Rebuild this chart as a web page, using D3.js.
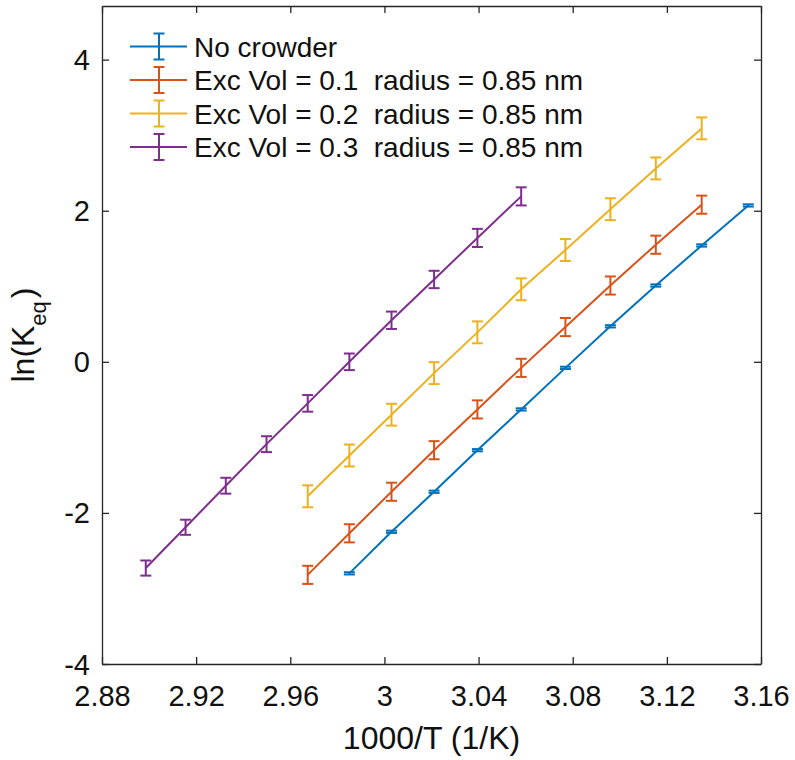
<!DOCTYPE html>
<html>
<head>
<meta charset="utf-8">
<script src="https://cdn.jsdelivr.net/npm/d3@7"></script>
<style>
  html, body { margin: 0; padding: 0; background: #fff; }
  svg { display: block; font-family: "Liberation Sans", Arial, Helvetica, sans-serif; }
</style>
</head>
<body>
<svg id="chart" width="795" height="760"></svg>
<script>
// ---- data ----
const seriesNames = [
  "No crowder",
  "Exc Vol = 0.1  radius = 0.85 nm",
  "Exc Vol = 0.2  radius = 0.85 nm",
  "Exc Vol = 0.3  radius = 0.85 nm"
];
const seriesColors = ["#0072BD", "#D95319", "#EDB120", "#7E2F8E"];

const xNoCrowder = [2.9851, 3.0030, 3.0211, 3.0395, 3.0581, 3.0769, 3.0960, 3.1153, 3.1348, 3.1546];
const yNoCrowder = [-2.80, -2.25, -1.72, -1.17, -0.63, -0.08, 0.47, 1.01, 1.54, 2.07];
const eNoCrowder = [0.015, 0.015, 0.015, 0.015, 0.015, 0.015, 0.015, 0.015, 0.015, 0.015];

const xExc01 = [2.9674, 2.9851, 3.0030, 3.0211, 3.0395, 3.0581, 3.0769, 3.0960, 3.1153, 3.1348];
const yExc01 = [-2.82, -2.27, -1.72, -1.17, -0.63, -0.08, 0.46, 1.01, 1.55, 2.08];
const eExc01 = [0.12, 0.12, 0.12, 0.12, 0.12, 0.12, 0.12, 0.12, 0.12, 0.12];

const xExc02 = [2.9674, 2.9851, 3.0030, 3.0211, 3.0395, 3.0581, 3.0769, 3.0960, 3.1153, 3.1348];
const yExc02 = [-1.78, -1.24, -0.70, -0.15, 0.39, 0.96, 1.48, 2.02, 2.56, 3.09];
const eExc02 = [0.145, 0.145, 0.145, 0.145, 0.145, 0.145, 0.145, 0.145, 0.145, 0.145];

const xExc03 = [2.8986, 2.9155, 2.9326, 2.9499, 2.9674, 2.9851, 3.0030, 3.0211, 3.0395, 3.0581];
const yExc03 = [-2.73, -2.19, -1.64, -1.09, -0.55, 0.00, 0.55, 1.09, 1.64, 2.19];
const eExc03 = [0.10, 0.10, 0.105, 0.105, 0.11, 0.11, 0.115, 0.115, 0.12, 0.12];

const xTicks = [2.88, 2.92, 2.96, 3.00, 3.04, 3.08, 3.12, 3.16];
const xTickLabels = ["2.88", "2.92", "2.96", "3", "3.04", "3.08", "3.12", "3.16"];
const yTicks = [-4, -2, 0, 2, 4];
const yTickLabels = ["-4", "-2", "0", "2", "4"];
const xDomain = [2.88, 3.16];
const yDomain = [-4, 4.71];

// ---- build ----
const series = [
  {x: xNoCrowder, y: yNoCrowder, e: eNoCrowder},
  {x: xExc01, y: yExc01, e: eExc01},
  {x: xExc02, y: yExc02, e: eExc02},
  {x: xExc03, y: yExc03, e: eExc03}
].map((s, i) => ({
  name: seriesNames[i],
  color: seriesColors[i],
  pts: s.x.map((xv, j) => ({x: xv, y: s.y[j], e: s.e[j]}))
}));

const pLeft = 102, pRight = 761, pTop = 6, pBottom = 664;
const svg = d3.select("#chart");
const x = d3.scaleLinear().domain(xDomain).range([pLeft, pRight]);
const y = d3.scaleLinear().domain(yDomain).range([pBottom, pTop]);
const axisColor = "#262626";
const tickLen = 7;
const capHalf = 5.5;

// data
const line = d3.line().x(d => x(d.x)).y(d => y(d.y));
const g = svg.append("g");
series.forEach(s => {
  const sg = g.append("g");
  sg.append("path").datum(s.pts)
    .attr("d", line).attr("fill", "none")
    .attr("stroke", s.color).attr("stroke-width", 2);
  const eb = sg.selectAll("g.eb").data(s.pts).enter().append("g");
  eb.append("line")
    .attr("x1", d => x(d.x)).attr("x2", d => x(d.x))
    .attr("y1", d => y(d.y - d.e)).attr("y2", d => y(d.y + d.e))
    .attr("stroke", s.color).attr("stroke-width", 2);
  eb.append("line")
    .attr("x1", d => x(d.x) - capHalf).attr("x2", d => x(d.x) + capHalf)
    .attr("y1", d => y(d.y - d.e)).attr("y2", d => y(d.y - d.e))
    .attr("stroke", s.color).attr("stroke-width", 2);
  eb.append("line")
    .attr("x1", d => x(d.x) - capHalf).attr("x2", d => x(d.x) + capHalf)
    .attr("y1", d => y(d.y + d.e)).attr("y2", d => y(d.y + d.e))
    .attr("stroke", s.color).attr("stroke-width", 2);
});

// axes (box with inward ticks on all sides)
const ax = svg.append("g");
const xAxisB = d3.axisBottom(x).tickValues(xTicks).tickSizeInner(-tickLen).tickSizeOuter(0)
  .tickFormat((d, i) => xTickLabels[i]);
const xAxisT = d3.axisTop(x).tickValues(xTicks).tickSizeInner(-tickLen).tickSizeOuter(0).tickFormat("");
const yAxisL = d3.axisLeft(y).tickValues(yTicks).tickSizeInner(-tickLen).tickSizeOuter(0)
  .tickFormat((d, i) => yTickLabels[i]);
const yAxisR = d3.axisRight(y).tickValues(yTicks).tickSizeInner(-tickLen).tickSizeOuter(0).tickFormat("");

function styleAxis(sel) {
  sel.select(".domain").attr("stroke", axisColor).attr("stroke-width", 1.3);
  sel.selectAll(".tick line").attr("stroke", axisColor).attr("stroke-width", 1.3);
  sel.selectAll(".tick text").attr("fill", "#111").style("font-size", "29px")
    .style("font-family", "'Liberation Sans', Arial, sans-serif");
}
const gb = ax.append("g").attr("transform", `translate(0,${pBottom})`).call(xAxisB);
styleAxis(gb);
gb.selectAll(".tick text").attr("dy", null).attr("y", 42);
const gt = ax.append("g").attr("transform", `translate(0,${pTop})`).call(xAxisT);
styleAxis(gt);
const gl = ax.append("g").attr("transform", `translate(${pLeft},0)`).call(yAxisL);
styleAxis(gl);
gl.selectAll(".tick text").attr("dy", "10").attr("x", -12);
const gr = ax.append("g").attr("transform", `translate(${pRight},0)`).call(yAxisR);
styleAxis(gr);

// axis labels
svg.append("text")
  .attr("x", (pLeft + pRight) / 2).attr("y", 749)
  .attr("text-anchor", "middle").attr("fill", "#111")
  .style("font-size", "32px").text("1000/T (1/K)");

const yl = svg.append("text")
  .attr("transform", `translate(34,${(pTop + pBottom) / 2}) rotate(-90)`)
  .attr("text-anchor", "middle").attr("fill", "#111")
  .style("font-size", "32px");
yl.append("tspan").text("ln(K");
yl.append("tspan").attr("dy", 12).style("font-size", "22px").text("eq");
yl.append("tspan").attr("dy", -12).attr("dx", 3).text(")");

// legend
const leg = svg.append("g");
const rowY = [46.5, 80, 113.5, 147];
series.forEach((s, i) => {
  const ry = rowY[i];
  const lg = leg.append("g");
  lg.append("line").attr("x1", 130).attr("x2", 187).attr("y1", ry).attr("y2", ry)
    .attr("stroke", s.color).attr("stroke-width", 2);
  lg.append("line").attr("x1", 159).attr("x2", 159).attr("y1", ry - 13).attr("y2", ry + 13)
    .attr("stroke", s.color).attr("stroke-width", 2);
  [ry - 13, ry + 13].forEach(cy => lg.append("line")
    .attr("x1", 159 - capHalf).attr("x2", 159 + capHalf).attr("y1", cy).attr("y2", cy)
    .attr("stroke", s.color).attr("stroke-width", 2));
  lg.append("text").attr("x", 194).attr("y", ry + 10)
    .attr("fill", "#111").style("font-size", "28px").style("white-space", "pre")
    .text(s.name);
});
</script>
</body>
</html>
